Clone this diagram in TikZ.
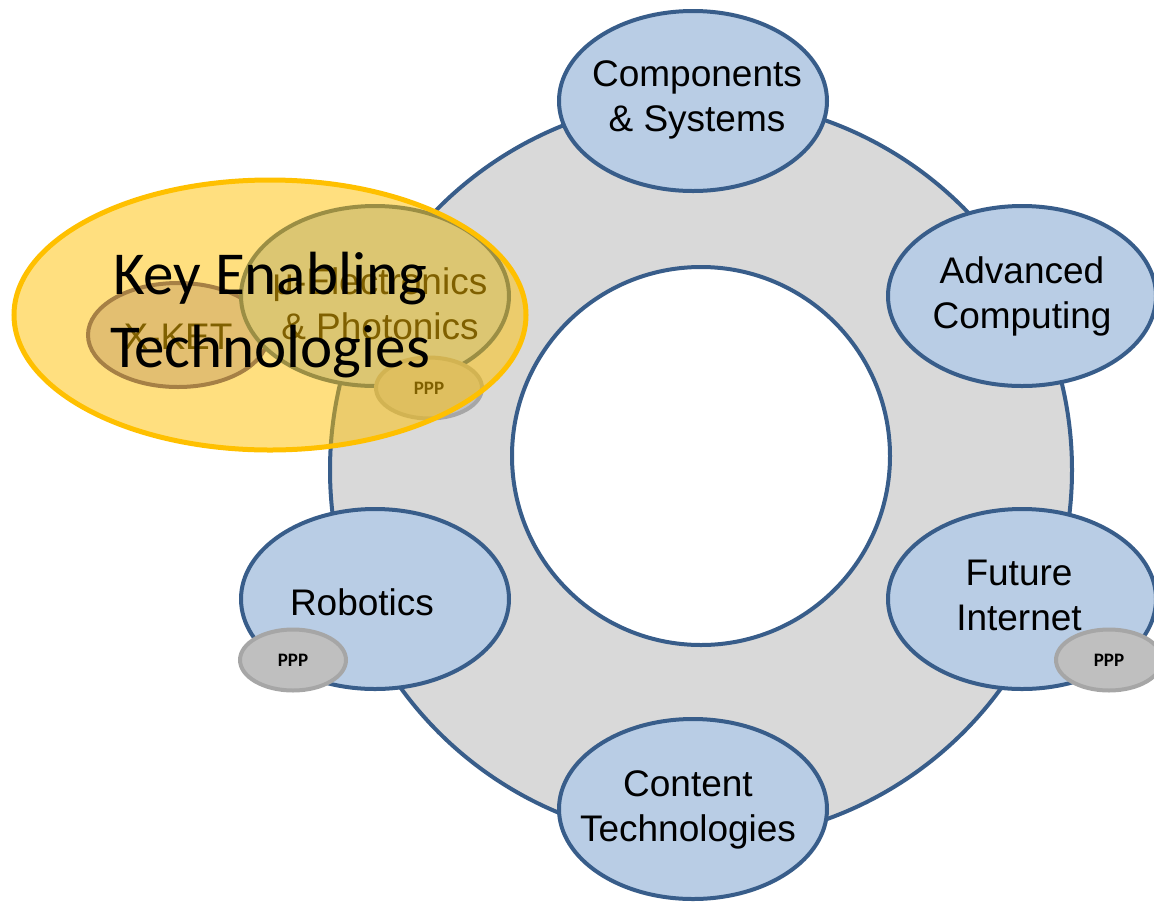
\documentclass[tikz,border=0pt]{standalone}
\usepackage{fontspec}
\setmainfont{Liberation Sans}
\newfontfamily\calibri{Carlito}
\usetikzlibrary{shapes.geometric}
\definecolor{ringblue}{RGB}{56,93,138}
\definecolor{ringgray}{RGB}{217,217,217}
\definecolor{topicblue}{RGB}{185,205,229}
\definecolor{pppgray}{RGB}{191,191,191}
\definecolor{pppedge}{RGB}{166,166,166}
\definecolor{ketgold}{RGB}{255,192,0}
\definecolor{xketfill}{RGB}{199,190,228}
\definecolor{xketedge}{RGB}{77,64,140}
\begin{document}
\begin{tikzpicture}[x=1pt,y=-1pt]
    \tikzstyle{ringc}=[circle, draw=ringblue, line width=4pt, inner sep=0pt]
    \tikzstyle{topic}=[ellipse, draw=ringblue, fill=topicblue, line width=4pt, inner sep=0pt,
        minimum width=268pt, minimum height=180pt]
    \tikzstyle{tlabel}=[align=center, inner sep=0pt, font=\fontsize{37}{45}\selectfont]
    \tikzstyle{ppp}=[ellipse, draw=pppedge, fill=pppgray, line width=4pt, inner sep=0pt,
        minimum width=106pt, minimum height=61pt, font=\calibri\bfseries\fontsize{19}{22}\selectfont]
    \def\colL{375}
    \def\colR{1022}
    \def\colM{693}

    \useasboundingbox (0,0) rectangle (1154,903);

    % ring
    \node[ringc, fill=ringgray, minimum size=742pt] (outer) at (701,470) {};
    \node[ringc, fill=white, minimum size=378pt] (inner) at (701,456) {};

    % topics round the ring
    \node[topic, label={[tlabel, xshift=4pt, yshift=1pt]center:Components\\\& Systems}] (comp) at (\colM,101) {};
    \node[topic, label={[tlabel]center:Advanced\\Computing}] (adv) at (\colR,296) {};
    \node[topic, label={[tlabel, xshift=-3pt, yshift=4pt]center:Future\\Internet}] (fint) at (\colR,599) {};
    \node[topic, label={[tlabel, xshift=-5pt, yshift=-1pt]center:Content\\Technologies}] (cont) at (\colM,809) {};
    \node[topic, label={[tlabel, xshift=-13pt, yshift=-3pt]center:Robotics}] (robo) at (\colL,599) {};

    \node[ppp] (ppprobo) at (293,660) {PPP};
    \node[ppp] (pppfint) at (1109,660) {PPP};

    % key enabling technologies
    \node[topic, fill=xketfill, draw=xketedge, minimum width=180pt, minimum height=104pt,
        label={[tlabel, yshift=-2pt]center:X-KET}] (xket) at (178,335) {};
    \node[topic, label={[tlabel, xshift=5pt, yshift=-8pt]center:μ-Electronics\\\& Photonics}] (micro) at (\colL,296) {};
    \node[ppp] (pppmicro) at (429,388) {PPP};

    \node[ellipse, draw=ketgold, line width=5pt, fill=ketgold, fill opacity=0.5, text opacity=1,
        minimum width=512pt, minimum height=270pt, inner sep=0pt, align=center,
        font=\calibri\fontsize{61}{73}\selectfont] (ket) at (270,315) {Key Enabling\\Technologies};
\end{tikzpicture}
\end{document}
